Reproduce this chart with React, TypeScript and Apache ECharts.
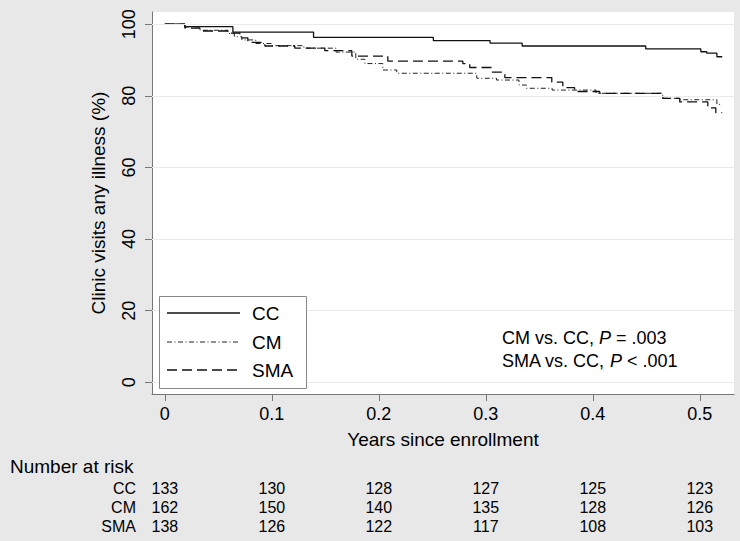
import React, { useEffect, useRef } from 'react';
import * as echarts from 'echarts';

// Kaplan-Meier step curves: [years since enrollment, % without clinic visit]
const ccCurve: [number, number][] = [
  [0, 100], [0.0187, 99.3], [0.0636, 97.8], [0.139, 96.3], [0.251, 95.4],
  [0.304, 94.7], [0.334, 93.9], [0.4495, 93.1], [0.501, 92.3], [0.5065, 91.9],
  [0.516, 90.9], [0.521, 90.9],
];
const cmCurve: [number, number][] = [
  [0, 100], [0.0187, 99.2], [0.033, 98.3], [0.059, 97.4], [0.065, 96.5],
  [0.072, 95.6], [0.085, 94.6], [0.1, 94.0], [0.13, 93.3], [0.16, 92.2],
  [0.1785, 90.2], [0.187, 89.0], [0.2037, 87.2], [0.2168, 86.3], [0.2916, 84.9],
  [0.31, 84.4], [0.331, 83.0], [0.338, 82.1], [0.362, 81.6], [0.403, 80.7],
  [0.4654, 79.3], [0.481, 78.9], [0.516, 77.6], [0.521, 77.6],
];
const smaCurve: [number, number][] = [
  [0, 100], [0.0187, 98.9], [0.0327, 98.1], [0.0589, 97.5], [0.0701, 96.2],
  [0.0776, 94.9], [0.0935, 93.9], [0.1215, 93.3], [0.1495, 92.6], [0.1748, 91.1],
  [0.2084, 89.7], [0.2785, 89.0], [0.285, 87.9], [0.3056, 86.6], [0.3178, 85.1],
  [0.3617, 83.8], [0.372, 82.3], [0.383, 81.2], [0.4065, 80.7], [0.4654, 79.3],
  [0.4813, 78.3], [0.5075, 76.6], [0.515, 75.3], [0.521, 75.3],
];

const groups = ['CC', 'CM', 'SMA'];
const xTicks = [0, 0.1, 0.2, 0.3, 0.4, 0.5];
const yTicks = [0, 20, 40, 60, 80, 100];

const riskTimes = [0, 0.1, 0.2, 0.3, 0.4, 0.5];
const riskCC = [133, 130, 128, 127, 125, 123];
const riskCM = [162, 150, 140, 135, 128, 126];
const riskSMA = [138, 126, 122, 117, 108, 103];

const FONT = "'Liberation Sans', Arial, Helvetica, sans-serif";

export default function App() {
  const ref = useRef<HTMLDivElement>(null);
  useEffect(() => {
    const chart = echarts.init(ref.current!, null, { renderer: 'svg' });
    const axisColor = '#777';
    const styles = [
      { color: '#111', width: 1.3, type: 'solid' as any },
      { color: '#222', width: 1, type: [5, 2.5, 1, 2.5] as any },
      { color: '#111', width: 1.3, type: [10, 5] as any },
    ];
    const curves = [ccCurve, cmCurve, smaCurve];
    chart.setOption({
      animation: false,
      backgroundColor: '#e8e8e8',
      textStyle: { fontFamily: FONT },
      grid: {
        left: 152, top: 12, width: 582, height: 382,
        show: true, backgroundColor: '#ffffff', borderWidth: 0,
      },
      xAxis: {
        type: 'value', min: -0.012, max: 0.532,
        name: 'Years since enrollment', nameLocation: 'middle', nameGap: 36,
        nameTextStyle: { fontSize: 19, color: '#000', fontFamily: FONT },
        axisLine: { show: true, onZero: false, lineStyle: { color: axisColor, width: 1 } },
        axisTick: { show: true, length: 7, customValues: xTicks, lineStyle: { color: axisColor } },
        axisLabel: { customValues: xTicks, fontSize: 18, color: '#000', margin: 11, fontFamily: FONT },
        splitLine: { show: false },
      },
      yAxis: {
        type: 'value', min: -3.27, max: 103.4,
        name: 'Clinic visits any illness (%)', nameLocation: 'middle', nameGap: 44, nameRotate: 90,
        nameTextStyle: { fontSize: 19, color: '#000', fontFamily: FONT },
        axisLine: { show: true, onZero: false, lineStyle: { color: axisColor, width: 1 } },
        axisTick: { show: true, length: 7, customValues: yTicks, lineStyle: { color: axisColor } },
        axisLabel: { customValues: yTicks, fontSize: 18, color: '#000', margin: 14, rotate: 90, fontFamily: FONT },
        splitLine: { show: false },
      },
      series: [
        {
          name: 'grid', type: 'line', data: [], silent: true, z: 1,
          markLine: {
            silent: true, symbol: 'none', label: { show: false },
            lineStyle: { color: '#ebebeb', type: 'solid', width: 1 },
            data: yTicks.map((v) => ({ yAxis: v })),
          },
        },
        ...groups.map((g, i) => ({
          name: g, type: 'line', step: 'end', data: curves[i], symbol: 'none', z: 3,
          lineStyle: styles[i], itemStyle: { color: styles[i].color },
        })),
      ],
    });

    const elements: any[] = [];
    // legend box
    const legX = 159, legY = 296;
    const rowYs = [313, 342, 370];
    elements.push({
      type: 'rect', shape: { x: legX + 0.5, y: legY + 0.5, width: 147, height: 92 }, z: 10,
      style: { fill: '#ffffff', stroke: '#888', lineWidth: 1 },
    });
    groups.forEach((g, i) => {
      const t = styles[i].type;
      elements.push({
        type: 'line', z: 11,
        shape: { x1: 167, y1: rowYs[i], x2: 240, y2: rowYs[i] },
        style: { stroke: styles[i].color, lineWidth: styles[i].width, lineDash: Array.isArray(t) ? t : null },
      });
      elements.push({
        type: 'text', x: 252, y: rowYs[i], z: 11,
        style: { text: g, fontSize: 19, fill: '#000', fontFamily: FONT, verticalAlign: 'middle' },
      });
    });

    const annStyle = { fontSize: 18, fill: '#000', fontFamily: FONT };
    elements.push({
      type: 'text', left: 502, top: 329,
      style: {
        text: '{n|CM vs. CC, }{i|P}{n| = .003}',
        rich: { n: annStyle, i: { ...annStyle, fontStyle: 'italic' } },
      },
    });
    elements.push({
      type: 'text', left: 502, top: 352,
      style: {
        text: '{n|SMA vs. CC, }{i|P}{n| < .001}',
        rich: { n: annStyle, i: { ...annStyle, fontStyle: 'italic' } },
      },
    });
    elements.push({
      type: 'text', x: 10, y: 466,
      style: { text: 'Number at risk', fontSize: 19, fill: '#000', fontFamily: FONT, verticalAlign: 'middle' },
    });
    const rows: [string, number[], number][] = [
      ['CC', riskCC, 488], ['CM', riskCM, 507], ['SMA', riskSMA, 526],
    ];
    rows.forEach(([label, vals, y]) => {
      elements.push({
        type: 'text', x: 136, y,
        style: { text: label, fontSize: 16, fill: '#000', fontFamily: FONT, align: 'right', verticalAlign: 'middle' },
      });
      vals.forEach((v, i) => {
        const px = chart.convertToPixel({ xAxisIndex: 0 }, riskTimes[i]) as number;
        elements.push({
          type: 'text', x: px, y,
          style: { text: String(v), fontSize: 16, fill: '#000', fontFamily: FONT, align: 'center', verticalAlign: 'middle' },
        });
      });
    });
    chart.setOption({ graphic: elements });

    return () => chart.dispose();
  }, []);
  return <div ref={ref} style={{ position: 'fixed', left: 0, top: 0, width: 740, height: 541 }} />;
}
